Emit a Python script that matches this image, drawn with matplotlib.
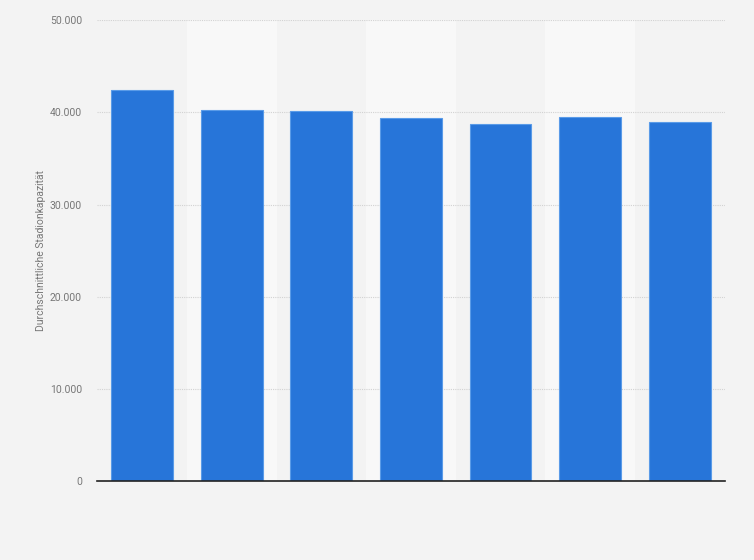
import matplotlib
matplotlib.use('Agg')
import matplotlib.pyplot as plt
from matplotlib.ticker import FuncFormatter

plt.rcParams['font.family'] = ['Roboto', 'DejaVu Sans']

# ── Data ──────────────────────────────────────────────────────────
categories = ['1', '2', '3', '4', '5', '6', '7']  # no labels shown in the original
capacity = [42400, 40200, 40100, 39400, 38700, 39500, 38900]
y_ticks = [0, 10000, 20000, 30000, 40000, 50000]

BG = '#f3f3f3'
BAND = '#f8f8f8'
BAR = '#2775d9'

fig = plt.figure(figsize=(7.54, 5.60), dpi=100, facecolor=BG)
ax = fig.add_axes([0.129, 0.141, 0.832, 0.823])
ax.set_facecolor(BG)

x = range(len(categories))
# alternating lighter column bands
for i in x:
    if i % 2 == 1:
        ax.axvspan(i - 0.5, i + 0.5, color=BAND, zorder=0, lw=0)

ax.bar(x, capacity, width=0.69, color=BAR, edgecolor='#5a9be8', linewidth=0.8, zorder=3)

ax.set_xlim(-0.5, len(categories) - 0.5)
ax.set_ylim(0, 50000)
ax.set_yticks(y_ticks)
ax.yaxis.set_major_formatter(FuncFormatter(lambda v, _: f"{int(v):,}".replace(',', '.')))
ax.tick_params(axis='y', length=0, labelsize=7.5, labelcolor='#777777', pad=11)
ax.set_xticks([])

ax.grid(axis='y', color='#d2d2d2', linestyle=(0, (1, 1)), linewidth=0.8, zorder=1)
for s in ['top', 'right', 'left']:
    ax.spines[s].set_visible(False)
ax.spines['bottom'].set_color('#222222')
ax.spines['bottom'].set_linewidth(1.2)
ax.spines['bottom'].set_zorder(4)

ax.set_ylabel('Durchschnittliche Stadionkapazität', fontsize=7.5, color='#777777', labelpad=3)

fig.savefig('out.png', dpi=100, facecolor=BG)
